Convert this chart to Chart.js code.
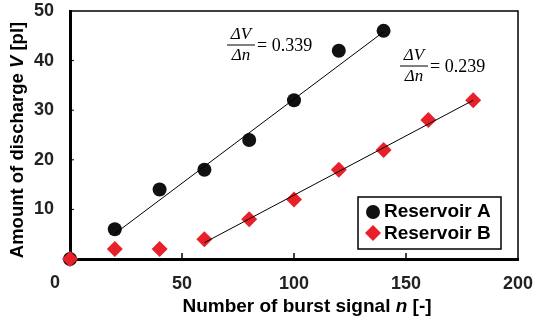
<!DOCTYPE html>
<html>
<head>
<meta charset="utf-8">
<script src="https://cdn.jsdelivr.net/npm/chart.js@4.4.1/dist/chart.umd.min.js"></script>
<style>
  html, body { margin: 0; padding: 0; background: #fff; }
  #wrap { width: 534px; height: 322px; }
</style>
</head>
<body>
<div id="wrap"><canvas id="plot"></canvas></div>
<script>
// values
var nA = [0, 20, 40, 60, 80, 100, 120, 140];
var vA = [0, 6, 14, 18, 24, 32, 42, 46];
var nB = [0, 20, 40, 60, 80, 100, 120, 140, 160, 180];
var vB = [0, 2, 2, 4, 8, 12, 18, 22, 28, 32];
var fitAn = [20, 140];
var fitAv = [5.1, 45.8];
var fitBn = [60, 180];
var fitBv = [3.3, 32];
var xTicks = [0, 50, 100, 150, 200];
var yTicks = [0, 10, 20, 30, 40, 50];
var slopeA = '0.339';
var slopeB = '0.239';

function pts(xs, ys) {
    return xs.map(function (x, i) { return {x: x, y: ys[i]}; });
}

var RED = '#e8202a';
var BLACK = '#111';
var TICKFONT = 'bold 18px "Liberation Sans", Arial, sans-serif';

function noPad(s) {
    s.paddingTop = 0; s.paddingBottom = 0; s.paddingLeft = 0; s.paddingRight = 0;
}

// draws the parts Chart.js can't do on its own: mixed-italic titles, fractions, boxed legend, frame
var extras = {
    id: 'extras',
    afterDraw: function (chart) {
        var ctx = chart.ctx;
        var a = chart.chartArea;
        var xs = chart.scales.x, ys = chart.scales.y;
        ctx.save();

        // thin frame on top / right
        ctx.strokeStyle = '#000';
        ctx.lineWidth = 1.5;
        ctx.beginPath();
        ctx.moveTo(a.left, a.top); ctx.lineTo(a.right, a.top); ctx.lineTo(a.right, a.bottom);
        ctx.stroke();

        // small inward ticks
        [50, 100, 150].forEach(function (v) {
            var px = xs.getPixelForValue(v);
            ctx.beginPath(); ctx.moveTo(px, a.bottom); ctx.lineTo(px, a.bottom - 6); ctx.stroke();
        });
        ctx.lineWidth = 1;
        [10, 20, 30, 40].forEach(function (v) {
            var py = ys.getPixelForValue(v);
            ctx.beginPath(); ctx.moveTo(a.left, py); ctx.lineTo(a.left + 4, py); ctx.stroke();
        });

        ctx.fillStyle = '#222';
        ctx.font = TICKFONT;
        ctx.textAlign = 'center';
        ctx.textBaseline = 'middle';
        // the "0" of the x axis sits left of the corner in the original
        ctx.fillText(String(xTicks[0]), a.left - 15, 283);

        // mixed font text helper
        function runs(parts, x, y, align) {
            var w = 0;
            parts.forEach(function (p) { ctx.font = p[1]; w += ctx.measureText(p[0]).width; });
            var cx = align === 'center' ? x - w / 2 : x;
            ctx.textAlign = 'left';
            parts.forEach(function (p) {
                ctx.font = p[1];
                ctx.fillText(p[0], cx, y);
                cx += ctx.measureText(p[0]).width;
            });
        }

        ctx.fillStyle = '#000';
        var B = 'bold 19px "Liberation Sans", Arial, sans-serif';
        var BI = 'italic bold 19px "Liberation Sans", Arial, sans-serif';
        runs([['Number of burst signal ', B], ['n', BI], [' [-]', B]], 307, 307, 'center');

        ctx.save();
        ctx.translate(18, 140);
        ctx.rotate(-Math.PI / 2);
        var B2 = 'bold 18.5px "Liberation Sans", Arial, sans-serif';
        var BI2 = 'italic bold 18.5px "Liberation Sans", Arial, sans-serif';
        runs([['Amount of discharge ', B2], ['V', BI2], [' [pl]', B2]], 0, 0, 'center');
        ctx.restore();

        // slope fractions
        function fraction(x, y, val) {
            var I = 'italic 17px "Liberation Serif", "Times New Roman", serif';
            var R = '18px "Liberation Serif", "Times New Roman", serif';
            ctx.textAlign = 'center';
            ctx.font = I;
            ctx.fillText('\u0394V', x + 14, y - 10);
            ctx.fillText('\u0394n', x + 14, y + 11);
            ctx.lineWidth = 1;
            ctx.beginPath(); ctx.moveTo(x, y); ctx.lineTo(x + 28, y); ctx.stroke();
            ctx.textAlign = 'left';
            ctx.font = R;
            ctx.fillText('= ' + val, x + 30, y + 1);
        }
        fraction(227, 45, slopeA);
        fraction(400, 66, slopeB);

        // legend box
        var lx = 358, ly = 197, lw = 143, lh = 52;
        ctx.fillStyle = '#fff';
        ctx.fillRect(lx, ly, lw, lh);
        ctx.strokeStyle = '#000';
        ctx.lineWidth = 1.5;
        ctx.strokeRect(lx, ly, lw, lh);
        ctx.fillStyle = BLACK;
        ctx.beginPath(); ctx.arc(373, 212, 7, 0, 2 * Math.PI); ctx.fill();
        ctx.fillStyle = RED;
        ctx.beginPath();
        ctx.moveTo(373, 225); ctx.lineTo(381, 233); ctx.lineTo(373, 241); ctx.lineTo(365, 233);
        ctx.closePath(); ctx.fill();
        ctx.fillStyle = '#000';
        ctx.font = 'bold 19px "Liberation Sans", Arial, sans-serif';
        ctx.textAlign = 'left';
        ctx.fillText('Reservoir A', 384, 212);
        ctx.fillText('Reservoir B', 384, 234);

        ctx.restore();
    }
};

var chartCtx = document.getElementById('plot').getContext('2d');
var ChartDischarge = new Chart(chartCtx, {
    type: 'scatter',
    data: {
        datasets: [{
            label: 'fit A',
            type: 'line',
            data: pts(fitAn, fitAv),
            borderColor: '#000',
            borderWidth: 1,
            pointRadius: 0,
            fill: false
        }, {
            label: 'fit B',
            type: 'line',
            data: pts(fitBn, fitBv),
            borderColor: '#000',
            borderWidth: 1,
            pointRadius: 0,
            fill: false
        }, {
            label: 'Reservoir B',
            data: pts(nB, vB),
            pointStyle: 'rectRot',
            pointRadius: 8,
            backgroundColor: RED,
            borderWidth: 0
        }, {
            label: 'Reservoir A',
            data: pts(nA, vA),
            pointStyle: 'circle',
            pointRadius: 7,
            backgroundColor: BLACK,
            borderWidth: 0
        }]
    },
    options: {
        responsive: true,
        maintainAspectRatio: false,
        animation: false,
        clip: false,
        layout: { padding: { top: 11, right: 16, left: 0, bottom: 0 } },
        plugins: { legend: { display: false }, tooltip: { enabled: false } },
        scales: {
            x: {
                type: 'linear',
                min: 0,
                max: 200,
                afterBuildTicks: function (s) { s.ticks = xTicks.map(function (v) { return {value: v}; }); },
                afterFit: function (s) { s.height = 63; noPad(s); },
                grid: { display: false },
                border: { color: '#000', width: 3 },
                ticks: {
                    color: '#222',
                    padding: 6,
                    maxRotation: 0,
                    callback: function (v) { return v === 0 ? '' : v; },
                    font: { family: '"Liberation Sans", Arial, sans-serif', size: 18, weight: 'bold' }
                }
            },
            y: {
                min: 0,
                max: 50,
                afterBuildTicks: function (s) { s.ticks = yTicks.map(function (v) { return {value: v}; }); },
                afterFit: function (s) { s.width = 70; noPad(s); },
                grid: { display: false },
                border: { color: '#000', width: 3 },
                ticks: {
                    color: '#222',
                    padding: 8,
                    callback: function (v) { return v === 0 ? '' : v; },
                    font: { family: '"Liberation Sans", Arial, sans-serif', size: 18, weight: 'bold' }
                }
            }
        }
    },
    plugins: [extras]
});
</script>
</body>
</html>
